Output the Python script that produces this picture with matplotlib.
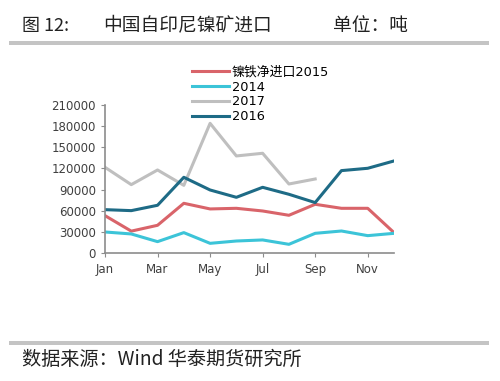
import numpy as np
import matplotlib as mpl
mpl.use('Agg')
from matplotlib import pyplot as plt
from matplotlib.patches import Rectangle

plt.rcParams['font.family'] = ['DejaVu Sans', 'Noto Sans CJK SC']

months = np.arange(1, 13)
tick_months = [1, 3, 5, 7, 9, 11]
tick_labels = ['Jan', 'Mar', 'May', 'Jul', 'Sep', 'Nov']

imp_2015 = [53000, 31000, 39300, 70500, 62500, 63400, 59600, 53500, 69100, 63400, 63400, 28900]
imp_2014 = [29800, 27000, 16100, 28900, 13700, 17000, 18500, 12300, 27900, 31200, 24600, 27900]
imp_2017 = [121600, 97000, 117800, 96000, 184000, 137700, 141500, 97900, 105000]
imp_2016 = [61500, 60100, 67700, 107400, 89400, 79000, 93200, 83300, 71500, 116900, 120200, 130600]

fig = plt.figure(figsize=(5.0, 3.81), dpi=100)
ax = fig.add_axes([0.21, 0.336, 0.578, 0.3884])

l1, = ax.plot(months, imp_2015, color='#d9646a', lw=2.2, label='镍铁净进口2015')
l2, = ax.plot(months, imp_2014, color='#3cc4d8', lw=2.2, label='2014')
l3, = ax.plot(months[:len(imp_2017)], imp_2017, color='#bfbfbf', lw=2.2, label='2017')
l4, = ax.plot(months, imp_2016, color='#1e6b86', lw=2.2, label='2016')

ax.set_xlim(1, 12)
ax.set_ylim(0, 210000)
ax.set_yticks(np.arange(0, 210001, 30000))
ax.set_xticks(tick_months)
ax.set_xticklabels(tick_labels)
for s in ['top', 'right']:
    ax.spines[s].set_visible(False)
for s in ['left', 'bottom']:
    ax.spines[s].set_color('#8c8c8c')
    ax.spines[s].set_linewidth(1.2)
ax.tick_params(axis='both', colors='#8c8c8c', length=3, labelsize=8.5, labelcolor='#404040')
ax.tick_params(axis='x', pad=4)

fig.legend(handles=[l1, l2, l3, l4], loc='upper left', bbox_to_anchor=(192/500, 1 - 66/381),
           frameon=False, fontsize=9.3, handlelength=2.9, handletextpad=0.2,
           labelspacing=0.13, borderpad=0, borderaxespad=0)

cjk = ['Noto Sans CJK SC', 'DejaVu Sans']
fig.text(22/500, 1 - 26/381, '图 12:', family=cjk, fontsize=13, va='center', color='#222222')
fig.text(103/500, 1 - 26/381, '中国自印尼镍矿进口', family=cjk, fontsize=13.5, va='center', color='#222222')
fig.text(333/500, 1 - 26/381, '单位：吨', family=cjk, fontsize=13.5, va='center', color='#222222')
fig.text(22/500, 1 - 359/381, '数据来源：Wind 华泰期货研究所', family=cjk, fontsize=13.8, va='center', color='#222222')

fig.patches.append(Rectangle((9/500, 1 - 45/381), 480/500, 4/381, transform=fig.transFigure,
                             facecolor='#c4c4c4', edgecolor='none'))
fig.patches.append(Rectangle((9/500, 1 - 345/381), 480/500, 4/381, transform=fig.transFigure,
                             facecolor='#c4c4c4', edgecolor='none'))

fig.savefig('out.png', dpi=100)
